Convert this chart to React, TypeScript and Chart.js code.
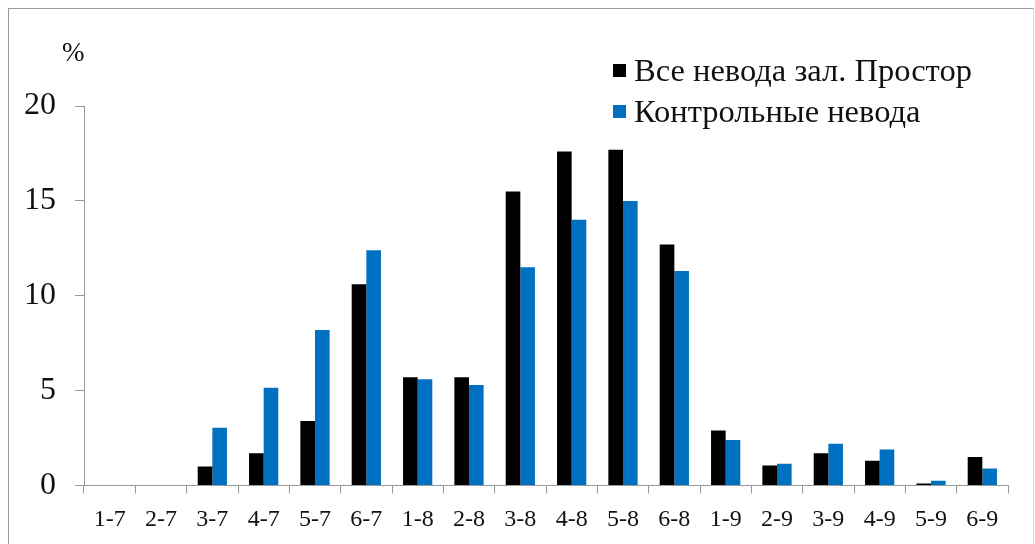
import React, { useEffect, useRef } from "react";
import { Chart, registerables } from "chart.js";

Chart.register(...registerables);

const categories = ["1-7", "2-7", "3-7", "4-7", "5-7", "6-7", "1-8", "2-8", "3-8", "4-8", "5-8", "6-8", "1-9", "2-9", "3-9", "4-9", "5-9", "6-9"];
const allSeines = [0, 0, 1.0, 1.7, 3.4, 10.6, 5.7, 5.7, 15.5, 17.6, 17.7, 12.7, 2.9, 1.05, 1.7, 1.3, 0.1, 1.5];
const controlSeines = [0, 0, 3.05, 5.15, 8.2, 12.4, 5.6, 5.3, 11.5, 14.0, 15.0, 11.3, 2.4, 1.15, 2.2, 1.9, 0.25, 0.9];
const seriesNames = ["Все невода зал. Простор", "Контрольные невода"];
const seriesColors = ["#000000", "#0070C0"];
const yTicks = [0, 5, 10, 15, 20];
const yUnit = "%";

const FONT = "'Liberation Serif', 'Times New Roman', serif";

export default function App() {
  const canvasRef = useRef<HTMLCanvasElement | null>(null);

  useEffect(() => {
    if (!canvasRef.current) return;
    const chart = new Chart(canvasRef.current, {
      type: "bar",
      data: {
        labels: categories,
        datasets: [
          {
            label: seriesNames[0],
            data: allSeines,
            backgroundColor: seriesColors[0],
            barPercentage: 1,
            categoryPercentage: 0.57,
          },
          {
            label: seriesNames[1],
            data: controlSeines,
            backgroundColor: seriesColors[1],
            barPercentage: 1,
            categoryPercentage: 0.57,
          },
        ],
      },
      options: {
        animation: false,
        responsive: false,
        maintainAspectRatio: false,
        layout: { padding: { top: 97, right: 25, left: 0, bottom: 0 } },
        plugins: {
          legend: { display: false },
          tooltip: { enabled: false },
        },
        scales: {
          x: {
            grid: {
              display: true,
              drawOnChartArea: false,
              drawTicks: true,
              tickLength: 8,
              color: "#999999",
              offset: true,
            },
            border: { display: true, color: "#999999", width: 1 },
            ticks: {
              color: "#111111",
              font: { family: FONT, size: 24 },
              padding: 12,
              maxRotation: 0,
              autoSkip: false,
            },
            afterFit: (s: any) => {
              s.height = 58.5;
            },
          },
          y: {
            min: 0,
            max: 20,
            afterBuildTicks: (s: any) => {
              s.ticks = yTicks.map((v) => ({ value: v }));
            },
            grid: {
              display: true,
              drawOnChartArea: false,
              drawTicks: true,
              tickLength: 9,
              color: "#999999",
            },
            border: { display: true, color: "#999999", width: 1 },
            ticks: {
              color: "#111111",
              font: { family: FONT, size: 32 },
              padding: 19,
            },
            afterFit: (s: any) => {
              s.width = 75;
            },
          },
        },
      },
    });
    return () => chart.destroy();
  }, []);

  const legendRow = (i: number, top: number) => (
    <div
      key={i}
      style={{
        position: "absolute",
        left: 604,
        top,
        height: 32,
        display: "flex",
        alignItems: "center",
        whiteSpace: "nowrap",
      }}
    >
      <span
        style={{
          display: "inline-block",
          width: 13,
          height: 13,
          background: seriesColors[i],
          marginRight: 8,
        }}
      />
      <span style={{ fontFamily: FONT, fontSize: 32.5, lineHeight: "32px", color: "#111" }}>
        {seriesNames[i]}
      </span>
    </div>
  );

  return (
    <div
      style={{
        position: "fixed",
        left: 8,
        top: 8,
        width: 1026,
        height: 536,
        boxSizing: "border-box",
        borderTop: "1px solid #999",
        borderLeft: "1px solid #999",
        borderRight: "1px solid #ddd",
        background: "#fff",
      }}
    >
      <canvas
        ref={canvasRef}
        width={1024}
        height={535}
        style={{ position: "absolute", left: 0, top: 0, width: 1024, height: 535 }}
      />
      <div
        style={{
          position: "absolute",
          left: 53,
          top: 30,
          fontFamily: FONT,
          fontSize: 27,
          lineHeight: "27px",
          color: "#111",
        }}
      >
        {yUnit}
      </div>
      {legendRow(0, 45)}
      {legendRow(1, 86)}
    </div>
  );
}
